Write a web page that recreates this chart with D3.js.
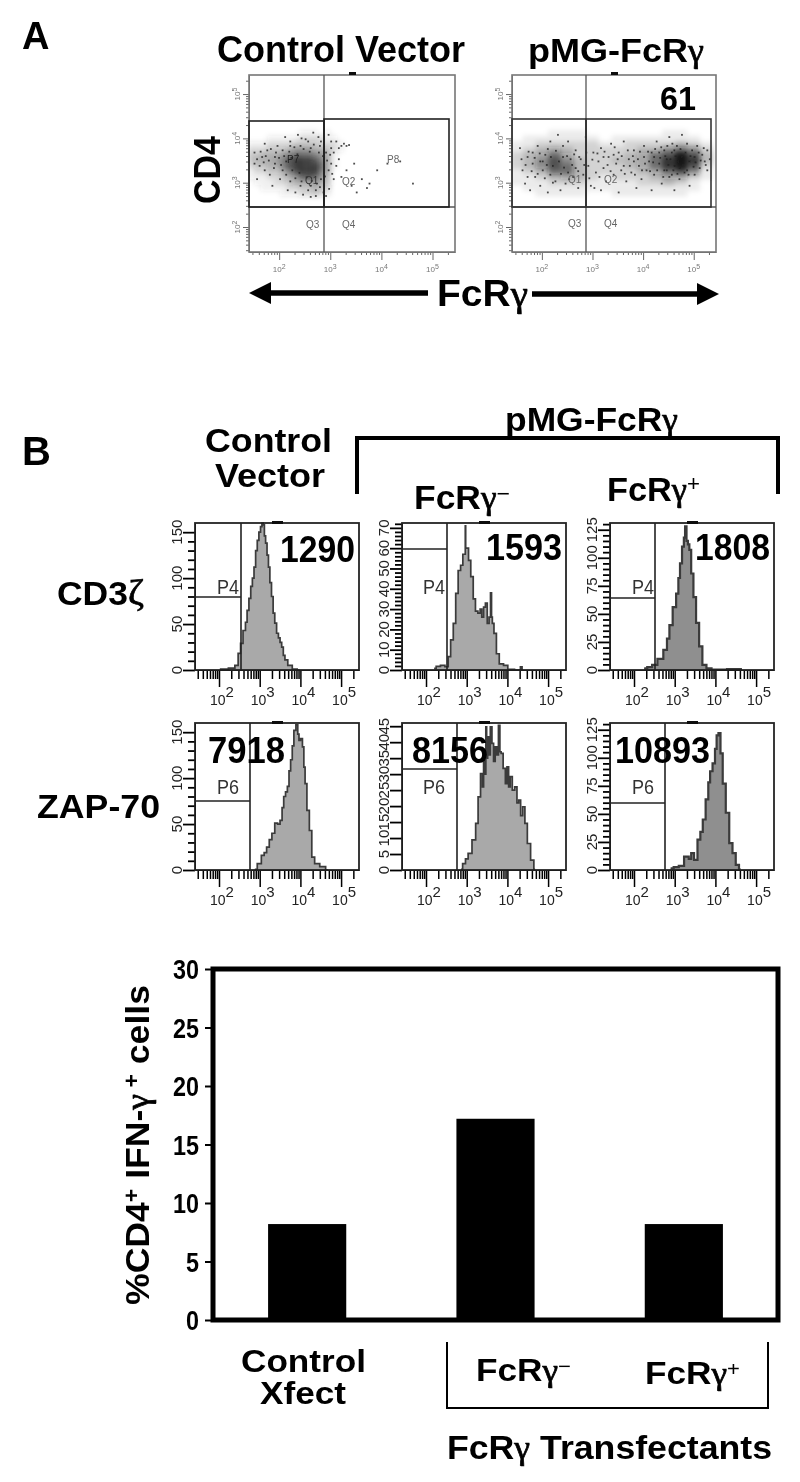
<!DOCTYPE html>
<html><head><meta charset="utf-8">
<script src="https://cdnjs.cloudflare.com/ajax/libs/d3/7.8.5/d3.min.js"></script>
<style>html,body{margin:0;padding:0;background:#fff}svg{display:block}text{font-family:"Liberation Sans",Arial,sans-serif}.g{font-family:"Liberation Serif",serif;font-weight:normal;stroke:#000;stroke-width:.7px}.t{font-weight:normal}</style>
</head><body><div id="c"></div>
<script>
// ---- Panel A: estimated density (0-9) on log10 FcRy (columns) / log10 CD4 (rows)
const ctrlDensX=[1.45,1.575,1.7,1.825,1.95,2.075,2.2,2.325,2.45,2.575,2.7,2.825,2.95,3.075,3.2];
const ctrlDensY=[4.125,4,3.875,3.75,3.625,3.5,3.375,3.25,3.125,3,2.875,2.75];
const ctrlDens=[
[0,0,0,0,0,0,0,0,1,1,1,0,1,0,0],
[0,0,0,1,1,1,1,1,2,2,2,2,1,1,0],
[1,1,1,2,2,2,2,3,3,3,3,2,2,2,1],
[2,2,2,3,3,3,4,5,5,5,4,4,3,2,1],
[3,3,4,4,4,5,6,7,7,7,6,5,4,1,0],
[3,4,4,4,5,6,8,9,9,9,8,6,4,1,0],
[2,3,3,4,4,6,8,9,9,9,9,7,4,1,0],
[1,2,2,3,3,4,6,8,9,9,9,6,4,0,0],
[1,1,1,2,2,3,4,5,7,8,7,5,3,0,0],
[0,1,1,1,2,2,3,4,4,4,5,4,3,0,0],
[0,0,1,1,1,1,2,2,3,3,4,3,2,0,0],
[0,0,0,0,0,1,1,1,2,2,3,2,1,0,0]];
const pmgDensX=[1.5,1.75,2,2.25,2.5,2.75,3,3.25,3.5,3.75,4,4.25,4.5,4.75,5,5.25];
const pmgDensY=[4.125,4,3.875,3.75,3.625,3.5,3.375,3.25,3.125,3,2.875,2.75];
const pmgDens=[
[0,0,0,1,1,1,0,0,0,0,0,0,1,1,0,0],
[0,1,1,1,1,1,1,0,1,1,1,1,1,1,1,0],
[1,1,2,2,2,2,2,1,1,2,2,2,2,3,2,1],
[1,2,3,4,3,2,2,2,2,2,3,3,5,6,5,2],
[2,3,4,6,4,2,2,2,2,3,4,6,7,9,7,3],
[2,3,5,7,5,3,2,2,3,3,4,6,8,9,8,3],
[2,3,5,7,6,3,2,2,2,3,4,6,8,9,7,2],
[1,2,3,6,6,3,2,2,2,2,3,4,6,7,5,1],
[1,1,2,3,4,3,2,1,2,2,2,3,4,4,2,1],
[1,1,1,2,2,2,1,1,1,1,2,2,3,2,1,0],
[0,1,1,1,1,1,1,1,1,1,1,1,1,1,1,0],
[0,0,1,1,1,1,0,0,1,1,1,1,1,1,0,0]];
// individually read specks [log10 FcRy, log10 CD4]
const ctrlSpecks=[[1.5,3.7],[1.6,3.4],[1.55,3.1],[1.7,3.9],[1.8,3.2],[1.85,2.95],[1.95,3.85],[2,3.1],[2.1,4.05],[2.15,2.85],[2.2,3.95],[2.3,2.8],[2.35,4.1],[2.45,2.75],[2.5,4],[2.55,3.95],[2.6,2.7],[2.65,4.15],[2.7,2.72],[2.75,4.05],[2.8,3.95],[2.85,2.8],[2.9,2.72],[2.95,4.1],[3,3.95],[3,3.8],[3.05,3.7],[3.1,3.95],[3.15,3.8],[3.2,3.85],[3.25,3.9],[3.3,3.85],[3.35,3.87],[3.15,3.55],[3.1,3.4],[3.2,3.15],[3.3,3.3],[3.45,3.45],[3.6,3.1],[3.75,3],[3.9,3.3],[3.7,2.9],[4.1,3.45],[4.35,3.5],[4.6,3],[3.4,2.95],[3.5,2.8],[2.4,3.85],[2.6,3.8],[1.9,3.6],[1.7,3.3],[2.05,3.3],[2.2,3.05],[2.8,3.1],[2.95,3.3],[3,3.45],[2.9,3.7],[3.05,3.1],[2.6,2.95],[2.4,2.95],[1.65,3.6],[1.5,3.45],[1.75,3.75],[1.9,3.45],[2.05,3.75],
[1.55,3.55],[1.62,3.72],[1.68,3.48],[1.72,3.62],[1.78,3.52],[1.82,3.78],[1.88,3.35],[1.92,3.7],[1.98,3.58],[2.02,3.42],[2.08,3.62],[2.12,3.5],[2.12,3.2],[2.18,3.72],[2.22,3.58],[2.24,3.3],[2.28,3.82],[2.3,3.12],[2.34,3.66],[2.38,3.24],[2.42,3.05],[2.46,3.78],[2.52,3.14],[2.58,3.72],[2.62,3.06],[2.66,3.88],[2.72,3],[2.76,3.7],[2.78,2.92],[2.84,3.62],[2.88,3.16],[2.92,3.52],[2.96,2.88],[2.98,3.65],[3.02,3.22],[2.7,2.85],[2.55,2.85],[2.2,3.85],[2.42,4.02],[2.78,3.85]];
const pmgSpecks=[[1.55,3.8],[1.6,3.3],[1.65,3],[1.7,3.6],[1.75,2.85],[1.8,3.45],[1.85,3.15],[1.9,3.85],[1.95,2.95],[2,3.3],[2.05,3.65],[2.1,2.8],[2.15,3.95],[2.25,3.05],[2.3,4.1],[2.35,2.85],[2.4,3.85],[2.45,3],[2.5,3.95],[2.6,3.15],[2.65,3.75],[2.7,2.9],[2.75,3.55],[2.8,3.2],[2.85,4.05],[2.9,3.4],[2.95,2.95],[3,3.7],[3.05,3.25],[3.1,3.5],[3.15,2.85],[3.15,3.8],[3.2,3.35],[3.25,3.05],[3.3,3.6],[3.35,3.9],[3.4,3.2],[3.45,3.45],[3.5,2.8],[3.5,3.7],[3.55,3.3],[3.6,3.95],[3.65,3.05],[3.7,3.55],[3.75,3.25],[3.8,3.75],[3.85,2.9],[3.9,3.4],[3.95,3.1],[4,3.85],[4,3.6],[4.05,3.3],[4.1,3.5],[4.15,2.85],[4.15,3.7],[4.2,3.2],[4.25,3.95],[4.3,3.45],[4.35,3],[4.4,3.75],[4.4,3.3],[4.45,3.55],[4.5,4.05],[4.5,3.15],[4.55,3.7],[4.6,2.85],[4.6,3.4],[4.65,3.85],[4.7,3.1],[4.75,4.1],[4.75,3.6],[4.8,3.25],[4.85,3.9],[4.9,2.95],[4.9,3.5],[4.95,3.75],[5,3.2],[5,3.6],[5.05,3.85],[5.1,3.35],[5.15,3.65],[5.2,3.5],[5.25,3.75],[5.25,3.3],[5.3,3.55],[4.2,3.6],[4.3,3.7],[4.45,3.3],[4.55,3.2],[4.7,3.35],[4.6,3.75],[4.85,3.3],[3.8,3.5],[3.6,3.4],[3.4,3.65],[3.2,3.6],[2.2,3.4],[2.4,3.6],[2.5,3.25],[2.15,3.2],[1.95,3.5],[2.65,3.35],[2.55,3.55],[1.7,3.15],[1.8,3.7],
[1.58,3.55],[1.66,3.42],[1.72,3.72],[1.78,3.28],[1.84,3.58],[1.9,3.22],[1.94,3.68],[2,3.5],[2.04,3.12],[2.08,3.42],[2.1,3.78],[2.16,3.6],[2.2,3.02],[2.26,3.74],[2.32,3.5],[2.36,3.22],[2.42,3.36],[2.48,3.62],[2.52,3.1],[2.58,3.42],[2.62,3.66],[2.7,3.28],[2.72,3.6],[2.82,3.42],[2.86,3.7],[2.92,3.12],[2.98,3.54],[3.02,2.9],[3.08,3.68],[3.12,3.15],[3.22,3.72],[3.28,3.42],[3.34,3.28],[3.42,3.82],[3.48,3.55],[3.56,3.62],[3.62,3.22],[3.68,3.75],[3.72,3.4],[3.78,3.62],[3.82,3.2],[3.88,3.55],[3.92,3.72],[3.96,3.3],[4.02,3.45],[4.08,3.72],[4.12,3.28],[4.18,3.48],[4.22,3.78],[4.26,3.3],[4.32,3.58],[4.34,3.82],[4.38,3.15],[4.42,3.62],[4.46,3.85],[4.48,3.42],[4.52,3.55],[4.56,3.9],[4.58,3.3],[4.62,3.62],[4.66,3.22],[4.68,3.5],[4.72,3.78],[4.78,3.42],[4.82,3.7],[4.88,3.2],[4.92,3.62],[4.98,3.38],[5.02,3.48],[5.08,3.7],[5.12,3.52],[5.18,3.8],[5.22,3.42]];
// ---- Panel B histograms: [log10 intensity, events]
const cd3Ctrl=[[2.02,1],[2.2,1],[2.26,2],[2.35,2],[2.43,5],[2.51,18],[2.55,29],[2.63,43],[2.67,52],[2.71,65],[2.76,78],[2.8,91],[2.84,100],[2.88,112],[2.92,130],[2.96,141],[3,150],[3.04,156],[3.07,162],[3.1,158],[3.13,146],[3.16,138],[3.2,125],[3.23,112],[3.27,95],[3.31,80],[3.35,62],[3.39,51],[3.44,40],[3.48,35],[3.52,30],[3.56,25],[3.6,16],[3.64,11],[3.74,5],[3.86,1],[3.98,0]];
const cd3Neg=[[2.2,.8],[2.3,1.8],[2.41,2.3],[2.52,1.6],[2.57,6.6],[2.64,14.8],[2.7,23],[2.76,37.7],[2.82,49],[2.88,51.6],[2.93,57],[2.96,57],[2.97,71],[2.98,60],[3.02,60],[3.07,54],[3.13,46],[3.19,35],[3.24,29],[3.31,28],[3.35,30],[3.39,26],[3.44,31],[3.48,33],[3.53,23],[3.57,26],[3.6,38],[3.62,26],[3.64,23],[3.7,18],[3.76,8],[3.84,3],[3.97,2.3],[4.05,.3],[4.3,0],[4.34,1.6],[4.38,0]];
const cd3Pos=[[2.25,1.5],[2.4,2.5],[2.49,4.5],[2.66,10],[2.78,18],[2.84,28],[2.9,40],[3,56],[3.07,68],[3.11,82],[3.15,95],[3.21,110],[3.24,118],[3.27,128],[3.31,115],[3.34,112],[3.38,107],[3.43,86],[3.49,65],[3.56,42],[3.64,21],[3.72,4.5],[3.84,1.5],[3.97,.3],[4.6,.8],[4.65,0]];
const zapCtrl=[[2.88,.7],[3,7],[3.08,16],[3.14,19],[3.2,25],[3.27,33],[3.33,40],[3.41,51],[3.47,50],[3.53,54],[3.57,68],[3.61,80],[3.66,85],[3.7,91],[3.74,108],[3.78,120],[3.82,135],[3.86,152],[3.92,158],[3.95,148],[3.98,141],[4.03,143],[4.07,134],[4.1,112],[4.13,94],[4.19,65],[4.25,43],[4.31,14],[4.39,7],[4.56,3.6],[4.68,0]];
const zapNeg=[[2.86,.2],[2.94,2],[3,3.5],[3.07,5.2],[3.19,9.4],[3.25,14.6],[3.31,22.9],[3.37,30.2],[3.4,26],[3.43,36.5],[3.46,30],[3.48,44.8],[3.5,35],[3.53,41.7],[3.56,36],[3.6,44.8],[3.64,39.6],[3.68,34],[3.72,38.5],[3.76,36],[3.8,45.3],[3.83,37],[3.86,36.5],[3.93,31.8],[3.97,27],[4.01,32.3],[4.05,26],[4.09,29.2],[4.15,25],[4.21,26],[4.26,21],[4.3,21.9],[4.35,17],[4.4,19.8],[4.46,14.6],[4.52,8.3],[4.62,3.1],[4.68,.2]];
const zapPos=[[2.9,1.5],[3.05,2.5],[3.15,3.6],[3.31,12],[3.38,10],[3.43,15],[3.52,9],[3.6,27],[3.66,34],[3.72,45],[3.8,63],[3.85,78],[3.89,88],[3.97,95],[4.01,108],[4.05,120],[4.1,122],[4.15,104],[4.21,77],[4.3,51],[4.38,24],[4.46,15],[4.54,4.5],[4.62,.6]];
// ---- Bar chart
const barCategories=["Control Xfect","FcRγ−","FcRγ+"];
const barValues=[8.2,17.2,8.2];
const barTicks=[0,5,10,15,20,25,30];
const decadeLabels=[2,3,4,5];

const W=800,H=1482;
const svg=d3.select("#c").append("svg").attr("width",W).attr("height",H);
const defs=svg.append("defs");
const f=defs.append("filter").attr("id","soft").attr("x",0).attr("y",0).attr("width",W).attr("height",H).attr("filterUnits","userSpaceOnUse");
f.append("feGaussianBlur").attr("stdDeviation",0.55);
const fb=defs.append("filter").attr("id","dens").attr("x","-10%").attr("y","-10%").attr("width","120%").attr("height","120%");
fb.append("feGaussianBlur").attr("stdDeviation",2.5);
const root=svg.append("g").attr("filter","url(#soft)");

function label(s,x,y,size,opts={}){
  const t=root.append("text").attr("x",x).attr("y",y).attr("font-size",size)
    .attr("font-weight",opts.weight||"bold").attr("fill",opts.fill||"#000")
    .attr("text-anchor",opts.anchor||"start");
  if(opts.len) t.attr("textLength",opts.len).attr("lengthAdjust","spacingAndGlyphs");
  if(opts.rot) t.attr("transform",`rotate(${opts.rot} ${x} ${y})`);
  s.forEach(p=>{
    if(typeof p==="string") t.append("tspan").text(p);
    else{const ts=t.append("tspan").text(p.t);
      if(p.greek) ts.attr("class","g");
      if(p.thin) ts.attr("class","t");
      if(p.dy!==undefined) ts.attr("dy",p.dy);
      if(p.size) ts.attr("font-size",p.size);}
  });
  return t;
}
const gam={t:"γ",greek:true};
const minorTicks=d3.range(1,6).flatMap(e=>d3.range(2,10).map(m=>m*Math.pow(10,e))).concat(d3.range(1,6).map(e=>Math.pow(10,e)));

// ========== Panel A scatter plots
function scatter(cfg){
  const x=d3.scaleLog().domain([Math.pow(10,1.41),Math.pow(10,5.44)]).range([cfg.x0,cfg.x1]);
  const y=d3.scaleLog().domain([Math.pow(10,1.436),Math.pow(10,5.43)]).range([252,75]);
  const id="clip"+cfg.x0;
  defs.append("clipPath").attr("id",id).append("rect").attr("x",cfg.x0).attr("y",75).attr("width",cfg.x1-cfg.x0).attr("height",177);
  const g=root.append("g");
  const dg=g.append("g").attr("clip-path",`url(#${id})`).append("g").attr("filter","url(#dens)");
  const dx=(cfg.dx[1]-cfg.dx[0])/2, dy=.0625;
  cfg.dens.forEach((row,i)=>row.forEach((v,j)=>{
    if(!v) return;
    const X0=x(Math.pow(10,cfg.dx[j]-dx)),X1=x(Math.pow(10,cfg.dx[j]+dx));
    const Y0=y(Math.pow(10,cfg.dy[i]+dy)),Y1=y(Math.pow(10,cfg.dy[i]-dy));
    dg.append("rect").attr("x",X0).attr("y",Y0).attr("width",X1-X0).attr("height",Y1-Y0)
      .attr("fill",cfg.col).attr("opacity",Math.pow(v/9,1.15)*cfg.op);
  }));
  g.selectAll("rect.s").data(cfg.specks).join("rect").attr("class","s")
    .attr("x",d=>x(Math.pow(10,d[0]))).attr("y",d=>y(Math.pow(10,d[1])))
    .attr("width",1.8).attr("height",1.8).attr("fill","#222").attr("opacity",.8);
  // axes
  const ax=d3.axisBottom(x).tickValues(minorTicks.filter(v=>v>x.domain()[0]&&v<x.domain()[1])).tickFormat("").tickSizeOuter(0);
  const xg=root.append("g").attr("transform","translate(0,252)").call(ax);
  xg.selectAll(".tick line").attr("stroke","#666").attr("y2",d=>Number.isInteger(Math.log10(d))?8:3);
  xg.select(".domain").attr("stroke","#666");
  const ay=d3.axisLeft(y).tickValues(minorTicks.filter(v=>v>y.domain()[0]&&v<y.domain()[1])).tickFormat("").tickSizeOuter(0);
  const yg=root.append("g").attr("transform",`translate(${cfg.x0},0)`).call(ay);
  yg.selectAll(".tick line").attr("stroke","#666").attr("x2",d=>Number.isInteger(Math.log10(d))?-6:-3);
  yg.select(".domain").attr("stroke","#666");
  decadeLabels.forEach(e=>{
    label(["10",{t:String(e),dy:-3,size:7}],x(Math.pow(10,e)),272,8,{weight:"normal",fill:"#777",anchor:"middle"});
    label(["10",{t:String(e),dy:-3,size:7}],cfg.x0-9,y(Math.pow(10,e)),8,{weight:"normal",fill:"#777",anchor:"middle",rot:-90});
  });
  // frame and quadrants
  root.append("rect").attr("x",cfg.x0).attr("y",75).attr("width",cfg.x1-cfg.x0).attr("height",177).attr("fill","none").attr("stroke","#777").attr("stroke-width",1.6);
  root.append("line").attr("x1",cfg.qx).attr("x2",cfg.qx).attr("y1",75).attr("y2",252).attr("stroke","#555").attr("stroke-width",1.3);
  root.append("line").attr("x1",cfg.x0).attr("x2",cfg.x1).attr("y1",207).attr("y2",207).attr("stroke","#555").attr("stroke-width",1.3);
  root.append("rect").attr("x",cfg.x0).attr("y",cfg.g1).attr("width",cfg.qx-cfg.x0).attr("height",207-cfg.g1).attr("fill","none").attr("stroke",cfg.gc).attr("stroke-width",1.6);
  root.append("rect").attr("x",cfg.qx).attr("y",cfg.g2).attr("width",cfg.gr-cfg.qx).attr("height",207-cfg.g2).attr("fill","none").attr("stroke",cfg.gc).attr("stroke-width",1.6);
  root.append("rect").attr("x",cfg.mark).attr("y",72).attr("width",7).attr("height",3).attr("fill","#111");
  cfg.tags.forEach(t=>label([t[0]],t[1],t[2],10,{weight:"normal",fill:t[3]||"#666"}));
}
scatter({x0:249,x1:455,qx:324,g1:121,g2:119,gr:449,mark:349,dens:ctrlDens,dx:ctrlDensX,dy:ctrlDensY,specks:ctrlSpecks,col:"#333",op:1,gc:"#222",
  tags:[["P7",287,163,"#222"],["Q1",305,184,"#333"],["P8",387,163],["Q2",342,185],["Q3",306,228],["Q4",342,228]]});
scatter({x0:512,x1:716,qx:586,g1:119,g2:119,gr:711,mark:611,dens:pmgDens,dx:pmgDensX,dy:pmgDensY,specks:pmgSpecks,col:"#111",op:1,gc:"#333",
  tags:[["Q1",568,183],["Q2",604,183],["Q3",568,227],["Q4",604,227]]});

label(["A"],22,49,38);
label(["Control Vector"],217,62,36,{len:248});
label(["pMG-FcR",gam],528,62,34,{len:176});
label(["61"],660,110,33,{len:36});
label(["CD4"],220,204,36,{rot:-90,len:68});
label(["FcR",gam],437,306,36,{len:91});
// arrows
function arrow(x1,x2,y,dir){
  const tip=dir<0?x1:x2, base=tip-dir*22;
  root.append("line").attr("x1",dir<0?base:x1).attr("x2",dir<0?x2:base).attr("y1",y).attr("y2",y).attr("stroke","#000").attr("stroke-width",5.5);
  root.append("path").attr("d",`M${tip},${y}L${base},${y-11}L${base},${y+11}Z`).attr("fill","#000");
}
arrow(249,428,293,-1);
arrow(532,719,294,1);

// ========== Panel B headers
label(["B"],22,465,40);
label(["Control"],205,452,34,{len:127});
label(["Vector"],215,487,34,{len:110});
label(["pMG-FcR",gam],505,431,34,{len:173});
root.append("path").attr("d","M357,494V438H778V494").attr("fill","none").attr("stroke","#000").attr("stroke-width",4);
label(["FcR",gam,{t:"−",dy:-8,size:22,thin:true}],414,509,34,{len:96});
label(["FcR",gam,{t:"+",dy:-10,size:22,thin:true}],607,501,34,{len:93});
label(["CD3",{t:"ζ",greek:true,size:36}],57,605,33,{len:87});
label(["ZAP-70"],37,818,34,{len:123});

// ========== Histograms
function hist(cfg){
  const x=d3.scaleLog().domain([Math.pow(10,1.41),Math.pow(10,5.44)]).range([cfg.x0,cfg.x0+164]);
  const y=d3.scaleLinear().domain([0,cfg.top]).range([cfg.y1,cfg.y1-147]);
  const area=d3.area().curve(d3.curveStep).x(d=>x(Math.pow(10,d[0]))).y0(cfg.y1).y1(d=>y(Math.min(d[1],cfg.top)));
  root.append("path").datum(cfg.data).attr("d",area).attr("fill",cfg.fill).attr("stroke","none");
  root.append("path").datum(cfg.data).attr("d",area.lineY1()).attr("fill","none").attr("stroke","#3a3a3a").attr("stroke-width",cfg.sw);
  const ax=d3.axisBottom(x).tickValues(minorTicks.filter(v=>v>x.domain()[0]&&v<x.domain()[1])).tickFormat("").tickSizeOuter(0);
  const xg=root.append("g").attr("transform",`translate(0,${cfg.y1})`).call(ax);
  xg.selectAll(".tick line").attr("stroke","#000").attr("stroke-width",1.5).attr("y2",d=>Number.isInteger(Math.log10(d))?17:9);
  xg.select(".domain").attr("stroke","#111");
  const ay=d3.axisLeft(y).tickValues(d3.range(0,cfg.top,cfg.minor)).tickFormat("").tickSizeOuter(0);
  const yg=root.append("g").attr("transform",`translate(${cfg.x0},0)`).call(ay);
  yg.selectAll(".tick line").attr("stroke","#000").attr("stroke-width",1.8).attr("x2",d=>d%cfg.major===0?-12:-7);
  yg.select(".domain").attr("stroke","#111");
  d3.range(0,cfg.top,cfg.major).forEach(v=>label([String(v)],cfg.x0-13,y(v),15,{weight:"normal",fill:"#222",anchor:"middle",rot:-90}));
  decadeLabels.forEach(e=>label(["10",{t:String(e),dy:-8,size:15}],x(Math.pow(10,e))-9,cfg.y1+35,14,{weight:"normal",fill:"#222"}));
  root.append("rect").attr("x",cfg.x0).attr("y",cfg.y1-147).attr("width",164).attr("height",147).attr("fill","none").attr("stroke","#222").attr("stroke-width",1.8);
  root.append("line").attr("x1",cfg.gx).attr("x2",cfg.gx).attr("y1",cfg.y1-147).attr("y2",cfg.y1).attr("stroke","#222").attr("stroke-width",1.6);
  root.append("line").attr("x1",cfg.x0).attr("x2",cfg.gx).attr("y1",cfg.gy).attr("y2",cfg.gy).attr("stroke","#222").attr("stroke-width",1.6);
  root.append("rect").attr("x",cfg.x0+77).attr("y",cfg.y1-149).attr("width",11).attr("height",3).attr("fill","#111");
  label([cfg.tag],cfg.tx,cfg.y1-76,21,{weight:"normal",fill:"#333",len:22});
  label([cfg.num],cfg.nx,cfg.ny,36,{len:cfg.nl});
}
hist({x0:195,y1:670,top:160,major:50,minor:10,gx:241,gy:597,data:cd3Ctrl,fill:"#a9a9a9",sw:1.7,tag:"P4",tx:217,num:"1290",nx:280,ny:562,nl:75});
hist({x0:402,y1:670,top:72.4,major:10,minor:2,gx:447,gy:549,data:cd3Neg,fill:"#a9a9a9",sw:1.7,tag:"P4",tx:423,num:"1593",nx:486,ny:560,nl:76});
hist({x0:610,y1:670,top:131,major:25,minor:5,gx:655,gy:598,data:cd3Pos,fill:"#8f8f8f",sw:2.2,tag:"P4",tx:632,num:"1808",nx:695,ny:560,nl:75});
hist({x0:195,y1:870,top:160,major:50,minor:10,gx:250,gy:801,data:zapCtrl,fill:"#a9a9a9",sw:1.7,tag:"P6",tx:217,num:"7918",nx:208,ny:763,nl:77});
hist({x0:402,y1:870,top:46,major:5,minor:5,gx:457,gy:769,data:zapNeg,fill:"#a9a9a9",sw:1.7,tag:"P6",tx:423,num:"8156",nx:412,ny:763,nl:76});
hist({x0:610,y1:870,top:131,major:25,minor:5,gx:665,gy:803,data:zapPos,fill:"#8f8f8f",sw:2.2,tag:"P6",tx:632,num:"10893",nx:615,ny:763,nl:95});

// ========== Bar chart
const bx=d3.scaleBand().domain(barCategories).range([213,778]).paddingInner(.585).paddingOuter(.2925);
const by=d3.scaleLinear().domain([0,30]).range([1320,969]);
root.selectAll("rect.b").data(barValues).join("rect").attr("class","b")
  .attr("x",(d,i)=>bx(barCategories[i])).attr("width",bx.bandwidth())
  .attr("y",d=>by(d)).attr("height",d=>by(0)-by(d)).attr("fill","#000");
root.append("path").attr("d",`M213,969H778V1320H213Z`).attr("fill","none").attr("stroke","#000").attr("stroke-width",5);
const byAxis=d3.axisLeft(by).tickValues(barTicks).tickSize(6).tickPadding(5).tickSizeOuter(0);
const byg=root.append("g").attr("transform","translate(211,0)").call(byAxis);
byg.select(".domain").remove();
byg.selectAll(".tick line").attr("stroke","#000").attr("stroke-width",2);
byg.selectAll(".tick text").attr("font-size",27).attr("font-weight","bold").attr("fill","#000").attr("dy",".36em").attr("x",-12)
   .attr("textLength",d=>d<10?13:26).attr("lengthAdjust","spacingAndGlyphs");
label(["%CD4",{t:"+",dy:-10,size:22},{t:" IFN-",dy:10},gam,{t:" +",dy:-10,size:22},{t:" cells",dy:10}],149,1305,34,{rot:-90,len:320});
label(["Control"],241,1372,31,{len:125});
label(["Xfect"],260,1404,31,{len:86});
root.append("path").attr("d","M447,1342V1408H768V1342").attr("fill","none").attr("stroke","#000").attr("stroke-width",2);
label(["FcR",gam,{t:"−",dy:-8,size:20,thin:true}],476,1381,32,{len:95});
label(["FcR",gam,{t:"+",dy:-8,size:20,thin:true}],645,1384,32,{len:95});
label(["FcR",gam," Transfectants"],447,1459,33,{len:325});
</script></body></html>
